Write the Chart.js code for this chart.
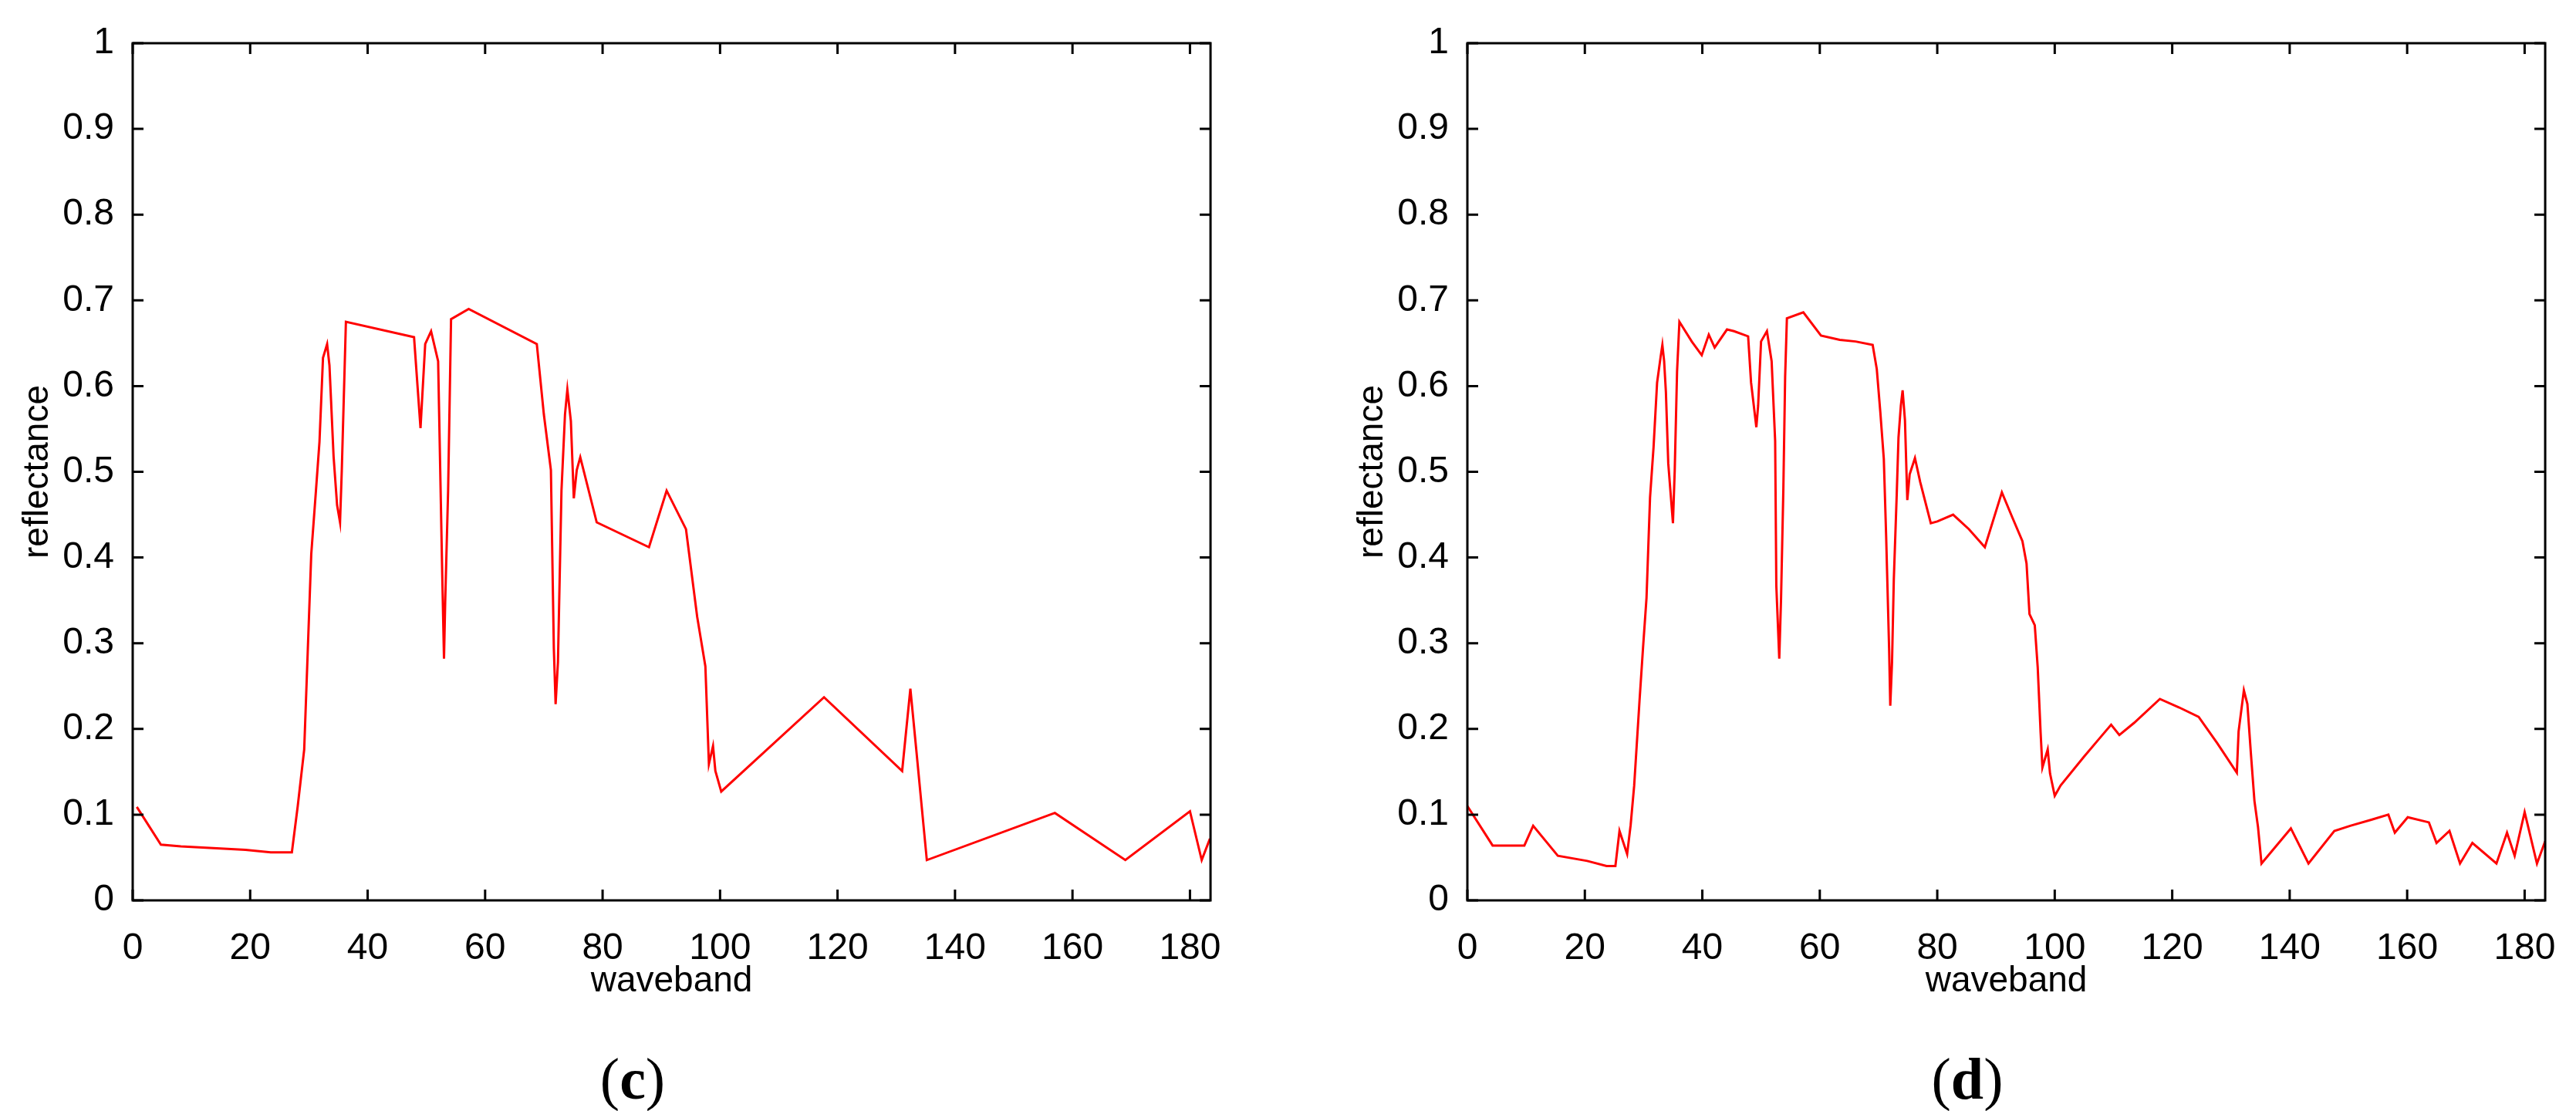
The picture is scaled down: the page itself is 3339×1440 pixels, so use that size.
<!DOCTYPE html>
<html>
<head>
<meta charset="utf-8">
<script src="https://cdn.jsdelivr.net/npm/chart.js@4/dist/chart.umd.min.js"></script>
<style>
  body { margin: 0; background: #fff; width: 3339px; height: 1440px; position: relative; overflow: hidden; }
  .panel { position: absolute; top: 0; width: 1609px; height: 1300px; }
  .cap { position: absolute; top: 1355px; width: 300px; text-align: center;
         font-family: "Liberation Serif", serif; font-size: 76px; color: #000; }
  .cap b { font-weight: bold; }
</style>
</head>
<body>
<div class="panel" style="left:0"><canvas id="chartC"></canvas></div>
<div class="panel" style="left:1730px"><canvas id="chartD"></canvas></div>
<div class="cap" style="left:670px">(<b>c</b>)</div>
<div class="cap" style="left:2400px">(<b>d</b>)</div>
<script>
// panel (c): waveband / reflectance
const bandsC = [0.7, 4.8, 8.2, 19.2, 23.5, 27.1, 28.1, 29.2, 29.8, 30.4, 31.2, 31.8, 32.4, 33.1, 33.5, 34.2, 34.8, 35.3, 35.6, 36.3,
  47.9, 49, 49.8, 50.8, 52, 52.7, 53, 53.2, 53.7, 54.2, 57.2, 68.8, 70, 71.2, 71.7, 72, 72.4, 73, 73.6, 74, 74.6, 75.1, 75.6, 76.2,
  79, 87.9, 90.9, 94.2, 96.1, 97.5, 98.1, 98.8, 99.2, 100.2, 117.7, 131, 132.4, 133.4, 135.2, 157, 169, 180, 182, 183.4];
const reflC = [0.109, 0.065, 0.063, 0.059, 0.056, 0.056, 0.11, 0.176, 0.29, 0.404, 0.478, 0.535, 0.633, 0.649, 0.624, 0.518, 0.461, 0.441, 0.502, 0.675,
  0.657, 0.551, 0.649, 0.664, 0.629, 0.38, 0.282, 0.347, 0.478, 0.678, 0.69, 0.649, 0.567, 0.502, 0.294, 0.229, 0.278, 0.478, 0.567, 0.596, 0.559, 0.469, 0.502, 0.517,
  0.441, 0.412, 0.478, 0.433, 0.331, 0.273, 0.159, 0.18, 0.151, 0.127, 0.237, 0.151, 0.247, 0.176, 0.047, 0.102, 0.047, 0.104, 0.047, 0.072];

// panel (d)
const bandsD = [0, 4.3, 9.7, 11.2, 15.4, 20.4, 23.7, 25.2, 25.9, 27.2, 27.8, 28.4, 29.3, 29.9, 30.5, 31.1, 31.7, 32.3, 32.9, 33.2, 33.5, 33.8,
  34.2, 35, 35.3, 35.7, 36.1, 38.2, 39.9, 41.1, 42.1, 44.2, 45.4, 47.8, 48.3, 49.2, 49.5, 50, 51, 51.8, 52.4, 52.6, 53.1, 53.4, 53.8, 54.1, 54.4,
  57.2, 60.2, 63.4, 66.1, 69, 69.7, 70.3, 70.9, 71.3, 71.8, 72, 72.3, 72.6, 73.1, 73.4, 73.8, 74.1, 74.5, 74.9, 75.3, 76.2, 77.1, 78.9, 80,
  82.7, 85.4, 88.1, 91, 92.7, 94.5, 95.2, 95.7, 96.6, 97.1, 97.6, 97.9, 98.8, 99.2, 100, 101, 104.9, 107.5, 109.6, 111, 113.5, 117.9, 121.2,
  124.5, 127.7, 131, 131.3, 132.2, 132.8, 133.4, 134, 134.6, 135.2, 140.2, 143.2, 147.6, 150.3, 153.9, 156.8, 157.9, 160.1, 163.7, 165, 167.2,
  169, 171.1, 175.2, 177, 178.3, 180, 182.1, 183.5];
const reflD = [0.11, 0.064, 0.064, 0.087, 0.052, 0.046, 0.04, 0.04, 0.081, 0.054, 0.088, 0.134, 0.232, 0.294, 0.353, 0.47, 0.529, 0.604, 0.634, 0.648, 0.629, 0.593,
  0.51, 0.44, 0.501, 0.617, 0.675, 0.652, 0.636, 0.66, 0.645, 0.666, 0.664, 0.658, 0.604, 0.552, 0.577, 0.652, 0.664, 0.629, 0.536, 0.367, 0.282, 0.351, 0.481, 0.611, 0.679,
  0.686, 0.659, 0.654, 0.652, 0.648, 0.62, 0.57, 0.515, 0.424, 0.294, 0.227, 0.278, 0.374, 0.474, 0.54, 0.577, 0.595, 0.56, 0.467, 0.497, 0.516, 0.488, 0.44, 0.442,
  0.45, 0.433, 0.412, 0.476, 0.448, 0.419, 0.393, 0.334, 0.321, 0.272, 0.195, 0.155, 0.176, 0.148, 0.122, 0.134, 0.167, 0.188, 0.205, 0.193, 0.207, 0.235, 0.225,
  0.214, 0.183, 0.149, 0.197, 0.245, 0.229, 0.171, 0.116, 0.086, 0.043, 0.084, 0.043, 0.081, 0.087, 0.094, 0.1, 0.079, 0.097, 0.091, 0.067, 0.081,
  0.043, 0.067, 0.043, 0.079, 0.052, 0.103, 0.043, 0.069];

const xTicks = [0, 20, 40, 60, 80, 100, 120, 140, 160, 180];
const yTicks = [0, 0.1, 0.2, 0.3, 0.4, 0.5, 0.6, 0.7, 0.8, 0.9, 1];

const tickFont = { family: "Liberation Sans, Arial, sans-serif", size: 48 };
const titleFont = { family: "Liberation Sans, Arial, sans-serif", size: 46 };

// matlab-like box with inward ticks
const framePlugin = {
  id: 'frame',
  afterDraw(chart) {
    const { ctx, chartArea: a, scales } = chart;
    ctx.save();
    ctx.strokeStyle = '#000';
    ctx.lineWidth = 3;
    ctx.strokeRect(a.left, a.top, a.right - a.left, a.bottom - a.top);
    ctx.beginPath();
    scales.x.ticks.forEach(t => {
      const px = scales.x.getPixelForValue(t.value);
      ctx.moveTo(px, a.bottom); ctx.lineTo(px, a.bottom - 14);
      ctx.moveTo(px, a.top); ctx.lineTo(px, a.top + 14);
    });
    scales.y.ticks.forEach(t => {
      const py = scales.y.getPixelForValue(t.value);
      ctx.moveTo(a.left, py); ctx.lineTo(a.left + 14, py);
      ctx.moveTo(a.right, py); ctx.lineTo(a.right - 14, py);
    });
    ctx.stroke();
    ctx.restore();
  }
};

function makeChart(id, bands, refl) {
  return new Chart(document.getElementById(id), {
    type: 'line',
    data: {
      datasets: [{
        data: bands.map((b, i) => ({ x: b, y: refl[i] })),
        borderColor: '#ff0000',
        borderWidth: 3,
        pointRadius: 0,
        tension: 0,
      }]
    },
    plugins: [framePlugin],
    options: {
      responsive: false,
      animation: false,
      devicePixelRatio: 1,
      layout: { padding: { top: 56, right: 28, left: 0, bottom: 0 } },
      plugins: { legend: { display: false }, tooltip: { enabled: false } },
      scales: {
        x: {
          type: 'linear', min: 0, max: 183.5,
          afterBuildTicks: s => { s.ticks = xTicks.map(v => ({ value: v })); },
          afterFit: s => { s.height = 133; },
          grid: { display: false },
          border: { display: false },
          ticks: { font: tickFont, color: '#000', padding: 26, maxRotation: 0, autoSkip: false },
          title: { display: true, text: 'waveband', font: titleFont, color: '#000', padding: { top: 0, bottom: 0 } },
        },
        y: {
          type: 'linear', min: 0, max: 1,
          afterBuildTicks: s => { s.ticks = yTicks.map(v => ({ value: v })); },
          afterFit: s => { s.width = 172; },
          grid: { display: false },
          border: { display: false },
          ticks: { font: tickFont, color: '#000', padding: 16, callback: v => String(Number(v.toFixed(1))) },
          title: { display: true, text: 'reflectance', font: titleFont, color: '#000', padding: { top: 22, bottom: 0 } },
        }
      }
    }
  });
}

['chartC', 'chartD'].forEach(id => {
  const c = document.getElementById(id);
  c.width = 1609; c.height = 1300;
});
makeChart('chartC', bandsC, reflC);
makeChart('chartD', bandsD, reflD);
</script>
</body>
</html>
